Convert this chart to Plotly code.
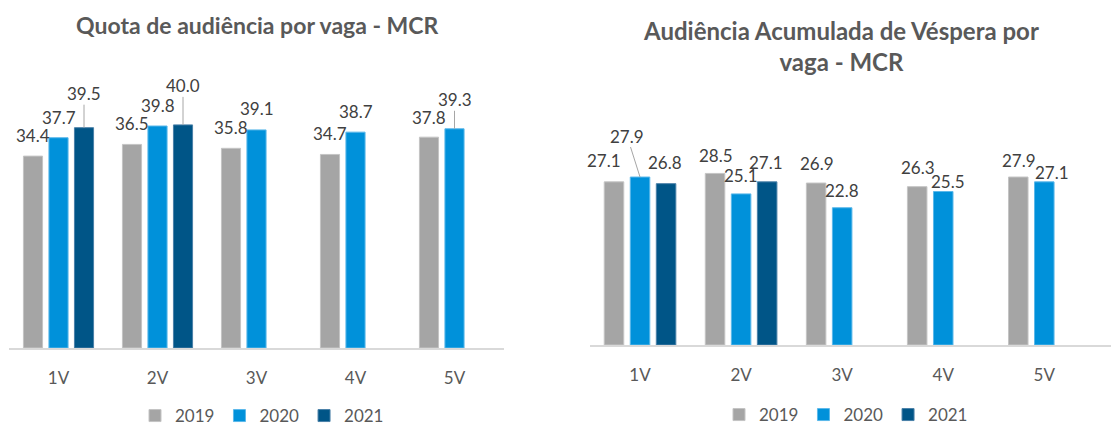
import plotly.graph_objects as go

# ---------------- data ----------------
categories = ["1V", "2V", "3V", "4V", "5V"]
years = ["2019", "2020", "2021"]

quota_2019 = [34.4, 36.5, 35.8, 34.7, 37.8]
quota_2020 = [37.7, 39.8, 39.1, 38.7, 39.3]
quota_2021 = [39.5, 40.0, None, None, None]

acum_2019 = [27.1, 28.5, 26.9, 26.3, 27.9]
acum_2020 = [27.9, 25.1, 22.8, 25.5, 27.1]
acum_2021 = [26.8, 27.1, None, None, None]

title_left = "Quota de audiência por vaga - MCR"
title_right = "Audiência Acumulada de Véspera por<br>vaga - MCR"

# ---------------- styles ----------------
colors = ["#a5a5a5", "#0091da", "#005587"]
edge = ["#c4c4c4", "#5bb8ea", "#4a80a8"]
FONT = "Lato"
TXT = "#595959"
LBL = "#404040"
BARGAP_L, GROUPGAP_L = 0.227, 0.25
BARGAP_R, GROUPGAP_R = 0.25, 0.21

# label offsets in pixels (dx, dy, leader) per year per category
left_off = [
    [(0, -21, False), (0, -21, False), (0, -21, False), (0, -21, False), (0, -20, False)],
    [(0, -20, False), (0, -20, False), (0, -21, False), (0, -21, False), (0, -29, True)],
    [(0, -34, True), (0, -39, True), None, None, None],
]
right_off = [
    [(-11, -21, False), (0, -18, False), (0, -20, False), (0, -19, False), (0, -17, False)],
    [(-13, -41, True), (0, -18, False), (0, -17, False), (5, -10, False), (8, -9, False)],
    [(0, -21, False), (0, -19, False), None, None, None],
]

W, H = 1111, 428
fig = go.Figure()

series_left = [quota_2019, quota_2020, quota_2021]
series_right = [acum_2019, acum_2020, acum_2021]

for j, (yr, vals) in enumerate(zip(years, series_left)):
    fig.add_trace(go.Bar(
        x=categories, y=vals, name=yr, marker_color=colors[j],
        marker_line=dict(color=edge[j], width=1),
        xaxis="x", yaxis="y", legend="legend", hoverinfo="skip",
    ))
for j, (yr, vals) in enumerate(zip(years, series_right)):
    fig.add_trace(go.Bar(
        x=categories, y=vals, name=yr, marker_color=colors[j],
        marker_line=dict(color=edge[j], width=1),
        xaxis="x2", yaxis="y2", legend="legend2", hoverinfo="skip",
    ))

annotations = []


def add_labels(series, offs, xref, yref, bargap):
    slot = (1 - bargap) / 3
    for j, vals in enumerate(series):
        for i, v in enumerate(vals):
            if v is None:
                continue
            dx, dy, leader = offs[j][i]
            xpos = i + (j - 1) * slot
            common = dict(x=xpos, y=v, xref=xref, yref=yref, text=f"{v:.1f}",
                          font=dict(family=FONT, size=17, color=LBL))
            if leader:
                annotations.append(dict(
                    **common, showarrow=True, arrowhead=0, arrowwidth=1,
                    arrowcolor="#a6a6a6", ax=dx, ay=dy, borderpad=0))
            else:
                annotations.append(dict(
                    **common, showarrow=False, xshift=dx, yshift=-dy,
                    xanchor="center", yanchor="middle"))


add_labels(series_left, left_off, "x", "y", BARGAP_L)
add_labels(series_right, right_off, "x2", "y2", BARGAP_R)

annotations.append(dict(text=f"<b>{title_left}</b>", x=257 / W, y=1 - 25 / H,
                        xref="paper", yref="paper", showarrow=False,
                        xanchor="center", yanchor="middle",
                        font=dict(family=FONT, size=23, color=TXT)))
annotations.append(dict(text=f"<b>{title_right}</b>", x=841 / W, y=1 - 46 / H,
                        xref="paper", yref="paper", showarrow=False,
                        xanchor="center", yanchor="middle",
                        font=dict(family=FONT, size=24, color=TXT)))

axis_common = dict(showgrid=False, zeroline=False, ticks="", showline=True,
                   linecolor="#d9d9d9", linewidth=2,
                   tickfont=dict(family=FONT, size=17, color=TXT))

legend_common = dict(orientation="h", xanchor="center", yanchor="middle",
                     xref="container", yref="container",
                     font=dict(family=FONT, size=17, color=TXT),
                     itemwidth=30, bgcolor="rgba(0,0,0,0)")

fig.update_layout(
    width=W, height=H,
    margin=dict(l=0, r=0, t=0, b=0, autoexpand=False),
    paper_bgcolor="white", plot_bgcolor="white",
    barmode="group",
    bargap=BARGAP_L, bargroupgap=GROUPGAP_L,
    showlegend=True,
    xaxis=dict(domain=[9 / W, 504 / W], range=[-0.5, 4.5], anchor="y",
               type="category", **axis_common),
    yaxis=dict(domain=[1 - 348 / H, 1 - 97 / H], range=[0, 45], visible=False,
               anchor="x"),
    xaxis2=dict(domain=[589.5 / W, 1.0], range=[-0.5, 4.66], anchor="y2",
                type="category", **axis_common),
    yaxis2=dict(domain=[1 - 345 / H, 1 - 134.3 / H], range=[0, 35], visible=False,
                anchor="x2"),
    legend=dict(x=262 / W, y=1 - 416 / H, **legend_common),
    legend2=dict(x=846 / W, y=1 - 415 / H, **legend_common),
    annotations=annotations,
    font=dict(family=FONT),
)

fig.update_xaxes(ticklabelstandoff=14)

fig.write_html("out.html", config={"displayModeBar": False},
               post_script="document.body.style.margin='0px';")
